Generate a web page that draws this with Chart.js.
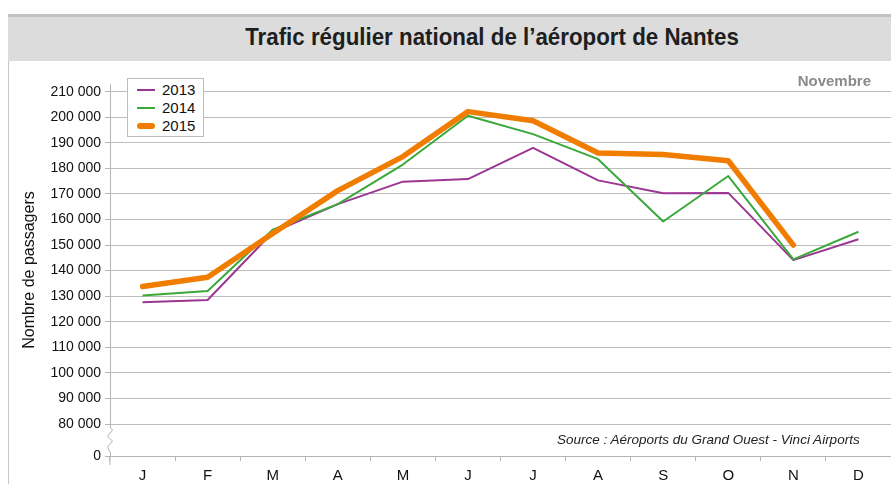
<!DOCTYPE html>
<html>
<head>
<meta charset="utf-8">
<script src="https://cdn.jsdelivr.net/npm/chart.js@4.4.1/dist/chart.umd.min.js"></script>
<style>
  html, body { margin: 0; padding: 0; background: #fff; }
  #wrap { position: relative; width: 891px; height: 484px; overflow: hidden; font-family: "Liberation Sans", Arial, sans-serif; }
  #frame { position: absolute; left: 8px; top: 14px; width: 900px; height: 480px; border-left: 1px solid #c8c8c8; }
  #band { position: absolute; left: 8px; top: 14px; width: 883px; height: 44px; background: #dcdcdc; border-top: 3px solid #c2c2c2; }
  #title { position: absolute; left: 192px; width: 600px; top: 23px; text-align: center; font-family: "Liberation Sans", sans-serif; font-weight: bold; font-size: 24px; color: #1e1e1e; transform: scaleX(0.93); transform-origin: 50% 50%; white-space: nowrap; }
  #nov { position: absolute; right: 20px; top: 72px; font-family: "Liberation Sans", sans-serif; font-weight: bold; font-size: 15px; color: #8a8a8a; }
  #source { position: absolute; left: 557px; top: 432px; font-style: italic; font-size: 13.5px; color: #222; white-space: nowrap; }
  #legend { position: absolute; left: 127px; top: 78px; width: 77px; height: 59px; border: 1px solid #bdbdbd; background: #fff; box-sizing: border-box; padding-top: 2px; }
  .li { height: 18px; position: relative; font-size: 15px; color: #111; }
  .li span.sw { position: absolute; left: 9px; top: 9px; width: 18px; }
  .li span.tx { position: absolute; left: 34px; top: 0px; line-height: 18px; }
  canvas { position: absolute; left: 0; top: 0; }
</style>
</head>
<body>
<div id="wrap">
  <div id="frame"></div>
  <div id="band"></div>
  <div id="title">Trafic régulier national de l’aéroport de Nantes</div>
  <canvas id="c" width="891" height="484"></canvas>
  <div id="nov">Novembre</div>
  <div id="legend"></div>
  <div id="source">Source : Aéroports du Grand Ouest - Vinci Airports</div>
</div>
<script>
const months = ['J','F','M','A','M','J','J','A','S','O','N','D'];
const seriesNames = ['2013','2014','2015'];
const values2013 = [127600, 128500, 155000, 166000, 174800, 175800, 188000, 175300, 170300, 170400, 144100, 152300];
const values2014 = [130300, 132000, 156000, 166000, 181500, 200600, 193400, 183600, 159200, 177000, 144400, 155200];
const values2015 = [133800, 137400, 154500, 171300, 184600, 202200, 198600, 186000, 185400, 183000, 150000, null];
const colors = ['#9b3793', '#3aa83a', '#f07d00'];
const widths = [2, 2, 5.5];
const yTicks = [80000, 90000, 100000, 110000, 120000, 130000, 140000, 150000, 160000, 170000, 180000, 190000, 200000, 210000];
const yBreakBase = 67500;   // position drawn as "0" below the axis break
const yTop = 213000;

// legend
const leg = document.getElementById('legend');
seriesNames.forEach((n, i) => {
  const d = document.createElement('div');
  d.className = 'li';
  d.innerHTML = '<span class="sw" style="height:' + (i === 2 ? 6 : 2) + 'px;margin-top:' + (i === 2 ? -3 : -1) + 'px;background:' + colors[i] + ';border-radius:' + (i===2?3:0) + 'px"></span><span class="tx">' + n + '</span>';
  leg.appendChild(d);
});

function fmt(v) {
  return String(v).replace(/\B(?=(\d{3})+(?!\d))/g, ' ');
}

const breakPlugin = {
  id: 'axisBreak',
  afterDraw(chart) {
    const ctx = chart.ctx;
    const y = chart.scales.y;
    const x0 = chart.chartArea.left;
    const top = y.getPixelForValue(78800);
    const bot = y.getPixelForValue(69000);
    ctx.save();
    ctx.fillStyle = '#fff';
    ctx.fillRect(x0 - 3, top, 6, bot - top);
    ctx.strokeStyle = '#b5b5b5';
    ctx.lineWidth = 1;
    ctx.beginPath();
    const h = bot - top;
    ctx.moveTo(x0, top);
    ctx.lineTo(x0 + 2.5, top + h * 0.12);
    ctx.lineTo(x0 - 2.5, top + h * 0.37);
    ctx.lineTo(x0 + 2.5, top + h * 0.55);
    ctx.lineTo(x0 - 2.5, top + h * 0.8);
    ctx.lineTo(x0, bot);
    ctx.stroke();
    ctx.beginPath();
    ctx.moveTo(x0, chart.chartArea.bottom);
    ctx.lineTo(x0, chart.chartArea.bottom + 9);
    ctx.stroke();
    ctx.restore();
  }
};

new Chart(document.getElementById('c'), {
  type: 'line',
  data: {
    labels: months,
    datasets: [values2013, values2014, values2015].map((vals, i) => ({
      label: seriesNames[i],
      data: vals,
      borderColor: colors[i],
      backgroundColor: colors[i],
      borderWidth: widths[i],
      pointRadius: 0,
      tension: 0,
      borderJoinStyle: 'round',
      borderCapStyle: i === 2 ? 'round' : 'butt',
      spanGaps: false
    })).reverse()
  },
  options: {
    responsive: false,
    animation: false,
    events: [],
    layout: { padding: { left: 0, top: 84, right: 0, bottom: 0 } },
    plugins: { legend: { display: false }, title: { display: false }, tooltip: { enabled: false } },
    scales: {
      x: {
        offset: true,
        grid: { display: true, drawOnChartArea: false, offset: true, color: '#b5b5b5', tickLength: 5, tickColor: '#b5b5b5' },
        border: { display: true, color: '#b5b5b5', width: 1 },
        ticks: { color: '#111', font: { family: 'Liberation Sans', size: 15 }, padding: 6, maxRotation: 0, autoSkip: false },
        afterFit(s) { s.height = 28; }
      },
      y: {
        min: yBreakBase,
        max: yTop,
        afterBuildTicks(s) { s.ticks = [yBreakBase].concat(yTicks).map(v => ({ value: v })); },
        grid: {
          color: (c) => c.tick && c.tick.value === yBreakBase ? 'rgba(0,0,0,0)' : '#bdbdbd',
          borderDash: [1, 2],
          tickBorderDash: [],
          tickColor: '#b5b5b5',
          tickLength: 5,
          lineWidth: 1
        },
        border: { display: true, color: '#b5b5b5', width: 1 },
        ticks: {
          color: '#111',
          font: { family: 'Liberation Sans', size: 14 },
          padding: 4,
          callback: (v) => v === yBreakBase ? '0' : fmt(v)
        },
        title: {
          display: true,
          text: 'Nombre de passagers',
          color: '#111',
          font: { family: 'Liberation Sans', size: 16 },
          padding: { top: 20, bottom: 0 }
        },
        afterFit(s) { s.width = 110; }
      }
    }
  },
  plugins: [breakPlugin]
});
</script>
</body>
</html>
